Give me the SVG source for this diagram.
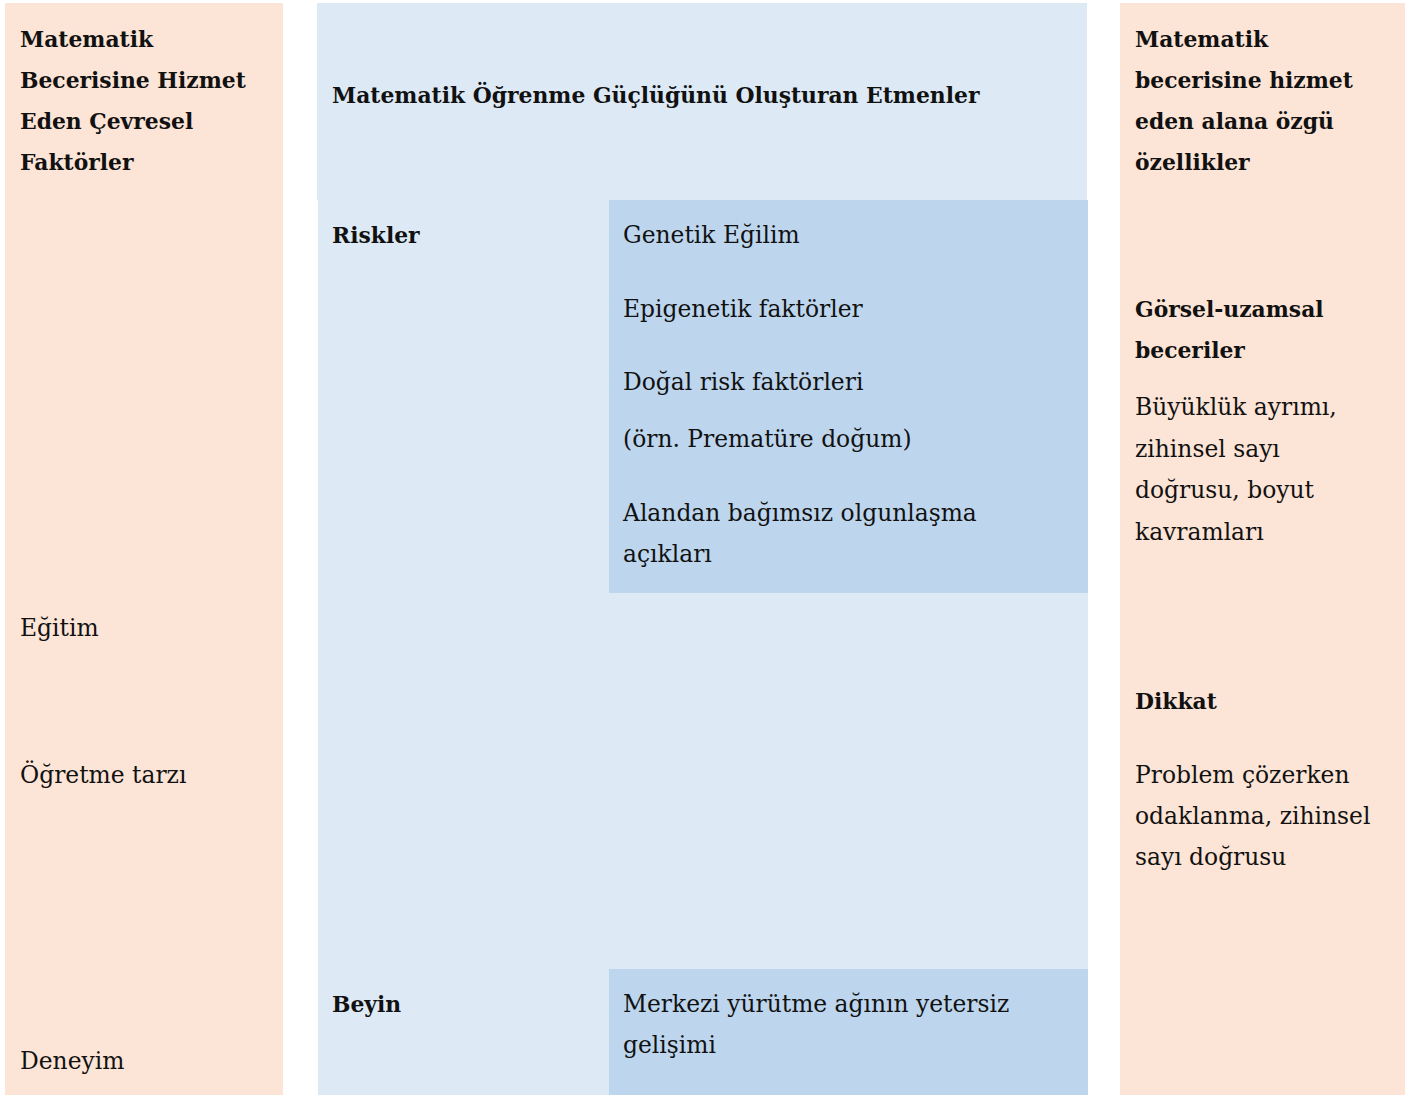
<svg xmlns="http://www.w3.org/2000/svg" width="1410" height="1095" viewBox="0 0 1410 1095">
<style>
.t{font-family:"DejaVu Serif","Liberation Serif",serif;font-size:23.4px;fill:#111}
.b{font-weight:bold;font-size:21.85px}
.pink{fill:#FCE4D6}
.lb{fill:#DDEAF6}
.db{fill:#BDD6EE}
</style>
<rect width="1410" height="1095" fill="#ffffff"/>
<g id="left-column">
<rect class="pink" x="5" y="3" width="278" height="1092"/>
<text class="t b" x="20" y="47">Matematik</text>
<text class="t b" x="20" y="88">Becerisine Hizmet</text>
<text class="t b" x="20" y="129">Eden Çevresel</text>
<text class="t b" x="20" y="170">Faktörler</text>
<text class="t" x="20" y="636">Eğitim</text>
<text class="t" x="20" y="783">Öğretme tarzı</text>
<text class="t" x="20" y="1069">Deneyim</text>
</g>
<g id="center-column">
<rect class="lb" x="317" y="3" width="770" height="197"/>
<rect class="lb" x="318" y="200" width="770" height="895"/>
<text class="t b" x="332" y="103">Matematik Öğrenme Güçlüğünü Oluşturan Etmenler</text>
</g>
<g id="riskler">
<text class="t b" x="332" y="243">Riskler</text>
<rect class="db" x="609" y="200" width="479" height="393"/>
<text class="t" x="623" y="243">Genetik Eğilim</text>
<text class="t" x="623" y="317">Epigenetik faktörler</text>
<text class="t" x="623" y="390">Doğal risk faktörleri</text>
<text class="t" x="623" y="447">(örn. Prematüre doğum)</text>
<text class="t" x="623" y="521">Alandan bağımsız olgunlaşma</text>
<text class="t" x="623" y="562">açıkları</text>
</g>
<g id="beyin">
<text class="t b" x="332" y="1012">Beyin</text>
<rect class="db" x="609" y="969" width="479" height="126"/>
<text class="t" x="623" y="1012">Merkezi yürütme ağının yetersiz</text>
<text class="t" x="623" y="1053">gelişimi</text>
</g>
<g id="right-column">
<rect class="pink" x="1120" y="3" width="285" height="1092"/>
<text class="t b" x="1135" y="47">Matematik</text>
<text class="t b" x="1135" y="88">becerisine hizmet</text>
<text class="t b" x="1135" y="129">eden alana özgü</text>
<text class="t b" x="1135" y="170">özellikler</text>
<text class="t b" x="1135" y="317">Görsel-uzamsal</text>
<text class="t b" x="1135" y="358">beceriler</text>
<text class="t" x="1135" y="415">Büyüklük ayrımı,</text>
<text class="t" x="1135" y="457">zihinsel sayı</text>
<text class="t" x="1135" y="498">doğrusu, boyut</text>
<text class="t" x="1135" y="540">kavramları</text>
<text class="t b" x="1135" y="709">Dikkat</text>
<text class="t" x="1135" y="783">Problem çözerken</text>
<text class="t" x="1135" y="824">odaklanma, zihinsel</text>
<text class="t" x="1135" y="865">sayı doğrusu</text>
</g>
<g id="connectors"></g>
</svg>
